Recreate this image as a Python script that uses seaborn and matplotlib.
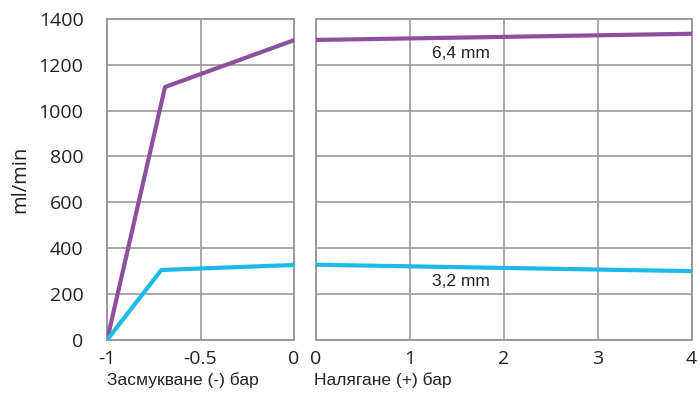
import numpy as np
import pandas as pd
import matplotlib
matplotlib.use("Agg")
import matplotlib.pyplot as plt
import seaborn as sns

sns.set_theme(style="white")

# suction side (negative pressure, bar)
suction_x = [-1.0, -0.69, 0.0]
suction_64 = [0, 1103, 1307]
suction_x_32 = [-1.0, -0.71, 0.0]
suction_32 = [0, 305, 327]

# pressure side (positive pressure, bar)
pressure_x = [0, 4]
pressure_64 = [1308, 1335]
pressure_32 = [328, 300]

purple = "#8f4f9f"
cyan = "#1db9e8"
grid_c = "#9a9a9a"
text_c = "#222222"

fig = plt.figure(figsize=(7, 3.93), dpi=100)
ax1 = fig.add_axes([0.153, 0.135, 0.267, 0.817])
ax2 = fig.add_axes([0.451, 0.135, 0.537, 0.817])

left = pd.DataFrame({"x": suction_x, "y": suction_64})
left32 = pd.DataFrame({"x": suction_x_32, "y": suction_32})
right = pd.DataFrame({"x": pressure_x, "y64": pressure_64, "y32": pressure_32})

sns.lineplot(data=left, x="x", y="y", ax=ax1, color=purple, lw=3, zorder=3)
sns.lineplot(data=left32, x="x", y="y", ax=ax1, color=cyan, lw=3, zorder=3)
sns.lineplot(data=right, x="x", y="y64", ax=ax2, color=purple, lw=3, zorder=3)
sns.lineplot(data=right, x="x", y="y32", ax=ax2, color=cyan, lw=3, zorder=3)

for ax in (ax1, ax2):
    ax.set_ylim(0, 1400)
    ax.set_yticks(range(0, 1401, 200))
    ax.grid(True, color=grid_c, lw=1.2)
    for s in ax.spines.values():
        s.set_color(grid_c)
        s.set_linewidth(1.4)
    ax.tick_params(length=0, labelsize=14, labelcolor=text_c)
    ax.tick_params(axis="x", pad=7)
    ax.tick_params(axis="y", pad=17)
    ax.set_xlabel("")
    ax.set_ylabel("")

ax1.set_xlim(-1, 0)
ax1.set_xticks([-1, -0.5, 0])
ax1.set_xticklabels(["-1", "-0.5", "0"], family="Open Sans")
ax1.set_yticklabels([str(v) for v in range(0, 1401, 200)], family="Open Sans")
ax1.set_ylabel("ml/min", fontsize=14.5, family="Open Sans", labelpad=6,
               color=text_c)

ax2.set_xlim(0, 4)
ax2.set_xticks([0, 1, 2, 3, 4])
ax2.set_xticklabels(["0", "1", "2", "3", "4"], family="Open Sans")
ax2.set_yticklabels([])

ax2.text(1.55, 1250, "6,4 mm", ha="center", va="center", fontsize=12.5,
         family="Liberation Sans", color=text_c)
ax2.text(1.55, 253, "3,2 mm", ha="center", va="center", fontsize=12.5,
         family="Liberation Sans", color=text_c)

fig.text(0.153, 0.033, "Засмукване (-) бар", ha="left", va="center",
         fontsize=12.5, family="Liberation Sans", color=text_c)
fig.text(0.449, 0.033, "Налягане (+) бар", ha="left", va="center",
         fontsize=12.5, family="Liberation Sans", color=text_c)

fig.savefig("out.png", dpi=100)
